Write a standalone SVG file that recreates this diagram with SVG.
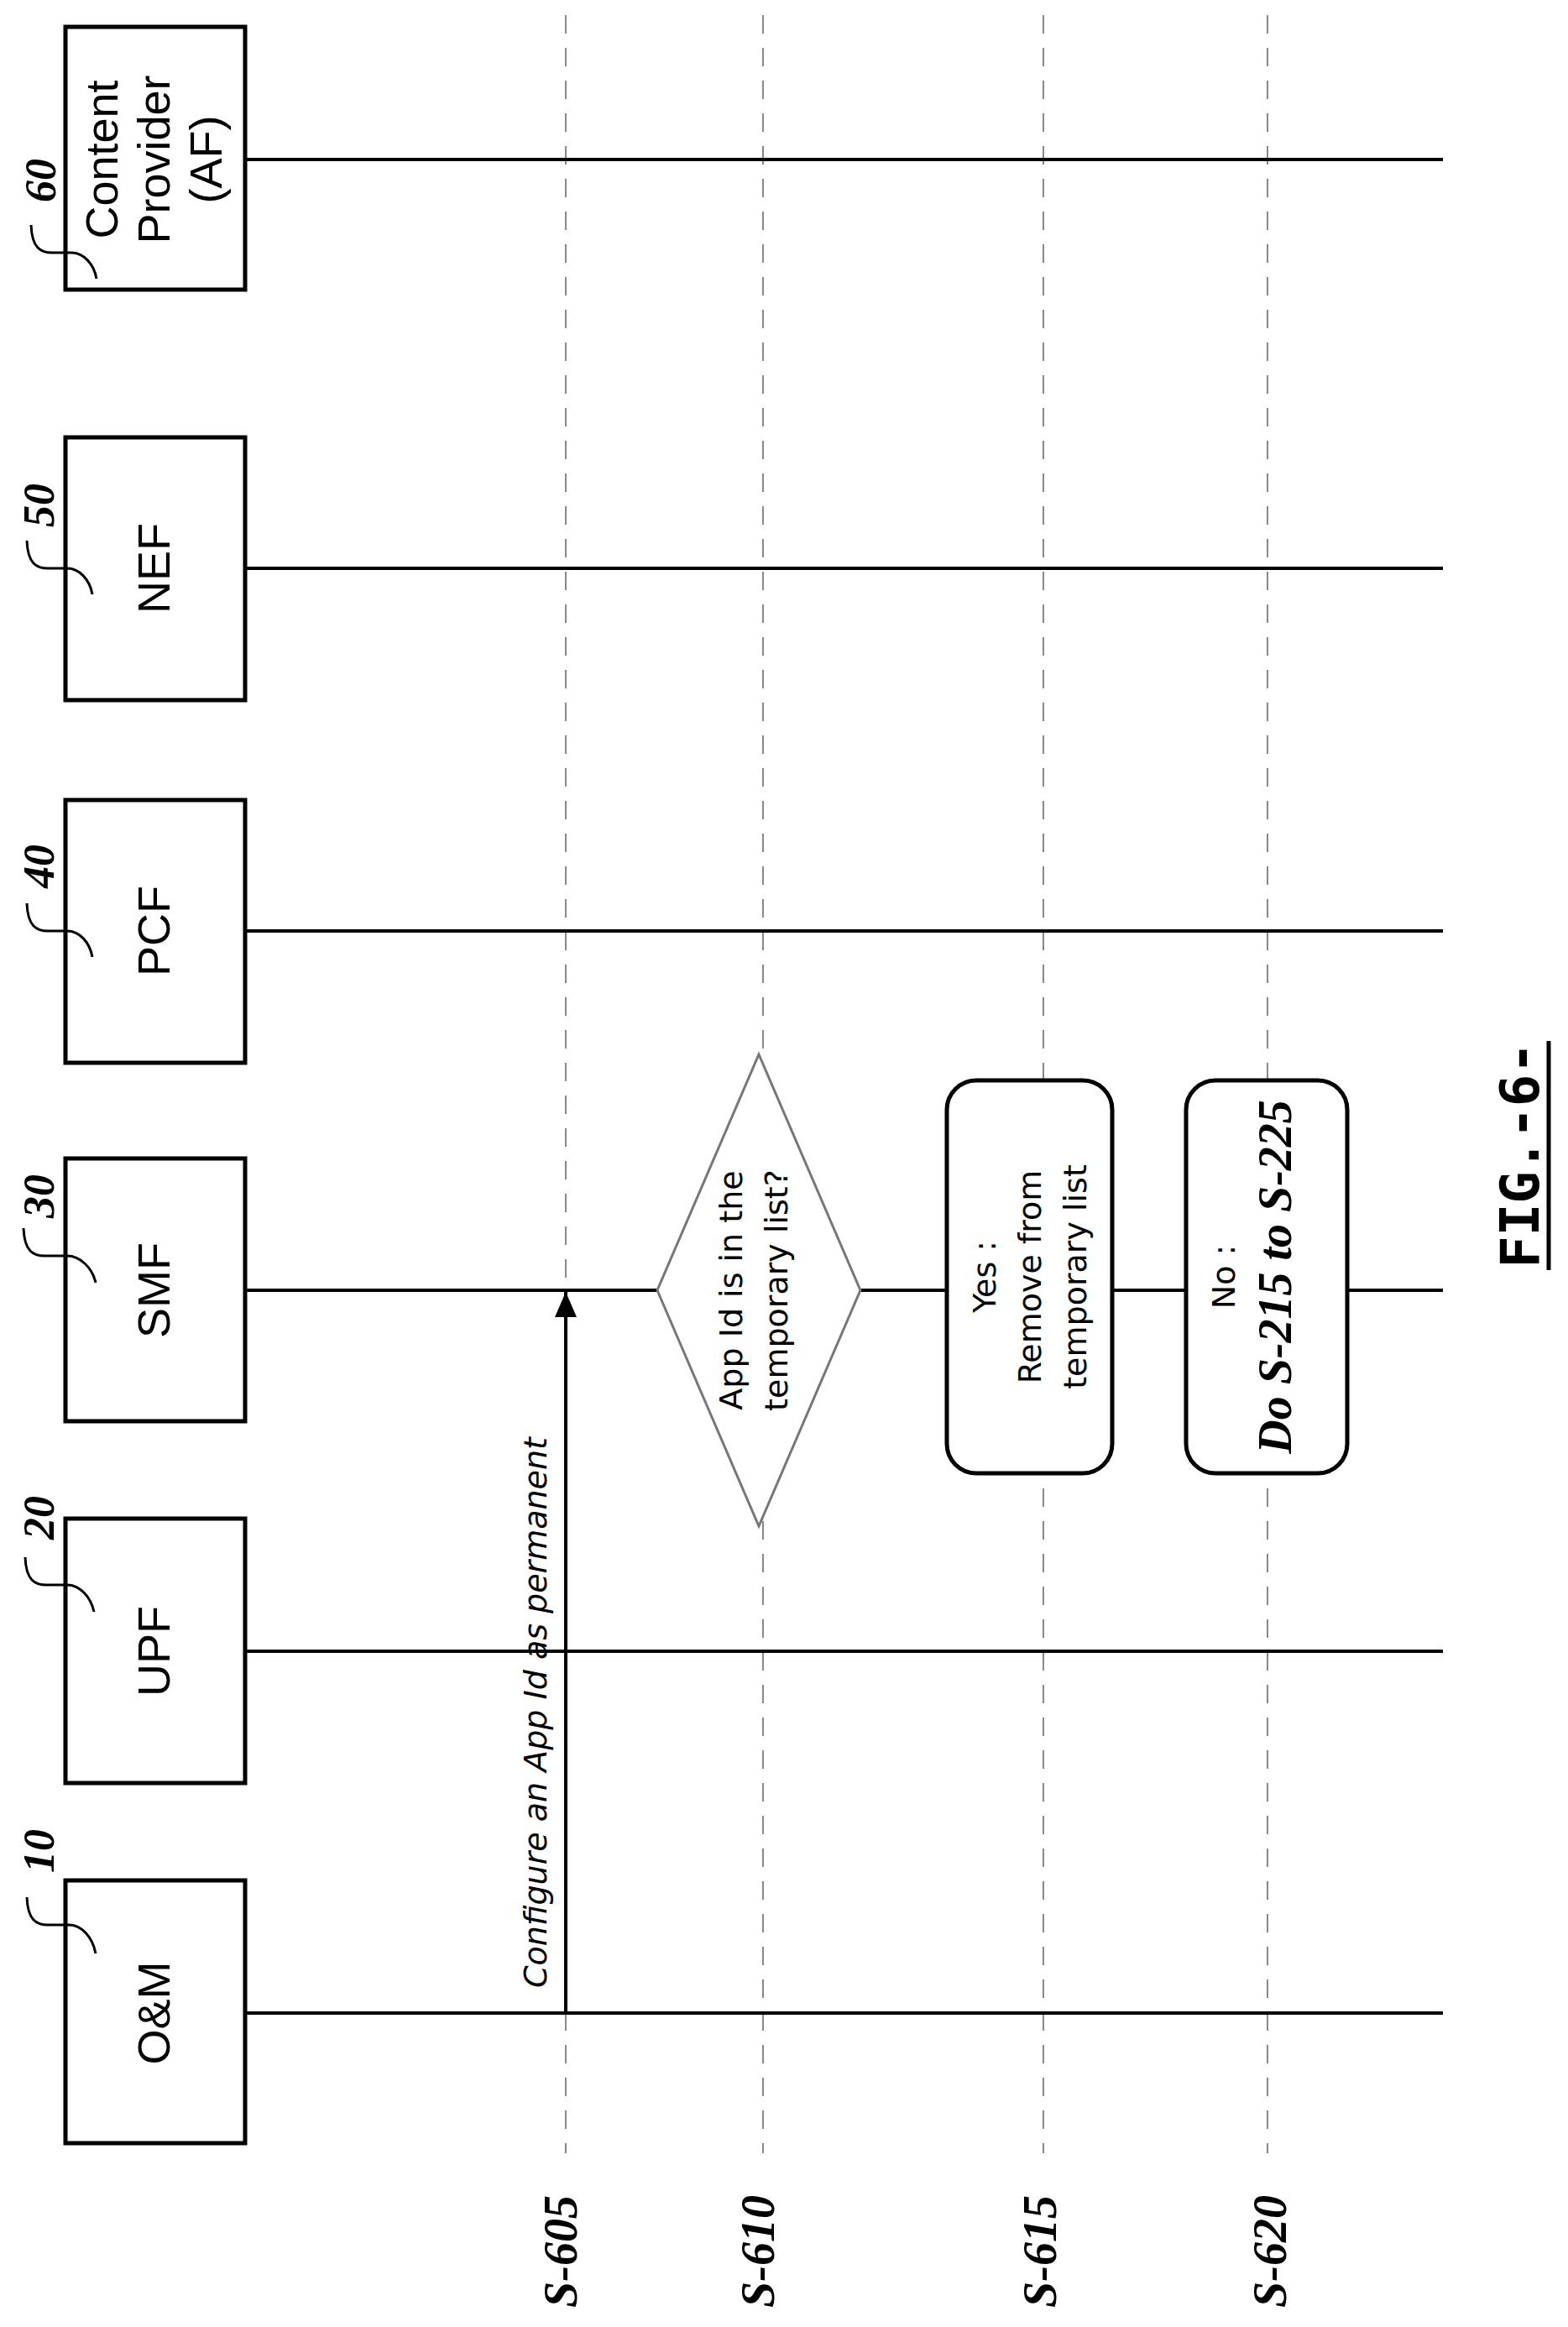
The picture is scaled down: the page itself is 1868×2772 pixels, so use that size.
<svg xmlns="http://www.w3.org/2000/svg" width="1868" height="2772" viewBox="0 0 1868 2772">
<style>
.box{fill:#fff;stroke:#000;stroke-width:5}
.life{stroke:#000;stroke-width:4;fill:none}
.dash{stroke:#888;stroke-width:2;stroke-dasharray:22 17;fill:none}
.sq{stroke:#000;stroke-width:3;fill:none}
.lbl{font-family:"Liberation Sans",Arial,sans-serif;font-size:54px;text-anchor:middle;dominant-baseline:central}
.ref{font-family:"Liberation Serif",serif;font-weight:bold;font-style:italic;font-size:52px;text-anchor:middle;dominant-baseline:central}
.step{font-family:"Liberation Serif",serif;font-weight:bold;font-style:italic;font-size:56px;text-anchor:middle;dominant-baseline:central}
.sm{font-family:"DejaVu Sans",sans-serif;font-size:38px;text-anchor:middle;dominant-baseline:central}
</style>
<defs>
<marker id="a2" viewBox="0 0 30 26" refX="30" refY="13" markerWidth="30" markerHeight="26" orient="auto" markerUnits="userSpaceOnUse"><path d="M0,0 L30,13 L0,26 z" fill="#000"/></marker></defs>

<g id="dashes">
<line class="dash" x1="674" y1="18" x2="674" y2="2565"/>
<line class="dash" x1="909" y1="18" x2="909" y2="2565"/>
<line class="dash" x1="1243" y1="18" x2="1243" y2="2565"/>
<line class="dash" x1="1510" y1="18" x2="1510" y2="2565"/>
</g>

<g id="connectors">
<line class="life" x1="292" y1="190" x2="1719" y2="190"/>
<line class="life" x1="292" y1="677" x2="1719" y2="677"/>
<line class="life" x1="292" y1="1109" x2="1719" y2="1109"/>
<line class="life" x1="292" y1="1537" x2="1719" y2="1537"/>
<line class="life" x1="292" y1="1967" x2="1719" y2="1967"/>
<line class="life" x1="292" y1="2398" x2="1719" y2="2398"/>
<line x1="674" y1="2398" x2="674" y2="1539" stroke="#000" stroke-width="4" marker-end="url(#a2)"/>
<text class="sm" font-size="39" font-style="italic" transform="translate(638,2040) rotate(-90)">Configure an App Id as permanent</text>
</g>

<g id="n60"><rect class="box" x="78" y="32" width="214" height="313"/>
<text class="lbl" transform="translate(183,190) rotate(-90)"><tspan x="0" dy="-62">Content</tspan><tspan x="0" dy="62">Provider</tspan><tspan x="0" dy="62">(AF)</tspan></text>
<path class="sq" d="M37,268 C38,295 48,302 65,301 L85,301 C100,301 112,315 115,332"/>
<text class="ref" transform="translate(48,215) rotate(-90)">60</text></g>

<g id="n50"><rect class="box" x="78" y="521" width="214" height="313"/>
<text class="lbl" transform="translate(183,677) rotate(-90)">NEF</text>
<path class="sq" d="M32,644 C33,671 43,678 60,677 L80,677 C95,677 107,691 110,708"/>
<text class="ref" transform="translate(46,602) rotate(-90)">50</text></g>

<g id="n40"><rect class="box" x="78" y="953" width="214" height="313"/>
<text class="lbl" transform="translate(183,1109) rotate(-90)">PCF</text>
<path class="sq" d="M32,1076 C33,1103 43,1110 60,1109 L80,1109 C95,1109 107,1123 110,1140"/>
<text class="ref" transform="translate(46,1032) rotate(-90)">40</text></g>

<g id="n30"><rect class="box" x="78" y="1380" width="214" height="313"/>
<text class="lbl" transform="translate(183,1537) rotate(-90)">SMF</text>
<path class="sq" d="M28,1463 C29,1490 39,1497 56,1496 L80,1496 C95,1496 110,1510 114,1528"/>
<text class="ref" transform="translate(46,1425) rotate(-90)">30</text></g>

<g id="n20"><rect class="box" x="78" y="1809" width="214" height="315"/>
<text class="lbl" transform="translate(183,1967) rotate(-90)">UPF</text>
<path class="sq" d="M30,1855 C31,1882 41,1889 58,1888 L80,1888 C95,1888 108,1902 112,1920"/>
<text class="ref" transform="translate(46,1808) rotate(-90)">20</text></g>

<g id="n10"><rect class="box" x="78" y="2240" width="214" height="313"/>
<text class="lbl" transform="translate(183,2398) rotate(-90)">O&amp;M</text>
<path class="sq" d="M32,2260 C33,2287 43,2294 60,2293 L82,2293 C97,2293 110,2307 114,2327"/>
<text class="ref" transform="translate(46,2205) rotate(-90)">10</text></g>

<g id="s610"><polygon points="904,1256 1025,1537 904,1818 783,1537" fill="#fff" stroke="#777" stroke-width="3"/>
<text class="sm" transform="translate(898,1537) rotate(-90)"><tspan x="0" dy="-27">App Id is in the</tspan><tspan x="0" dy="54">temporary list?</tspan></text></g>

<g id="s615"><rect class="box" x="1128" y="1287" width="197" height="468" rx="35"/>
<text class="sm" transform="translate(1227,1521) rotate(-90)"><tspan x="0" dy="-54">Yes :</tspan><tspan x="0" dy="54">Remove from</tspan><tspan x="0" dy="54">temporary list</tspan></text></g>

<g id="s620"><rect class="box" x="1413" y="1287" width="192" height="468" rx="35"/>
<text class="sm" transform="translate(1458,1521) rotate(-90)">No :</text>
<text class="step" font-size="50" transform="translate(1519,1521) rotate(-90)">Do S-215 to S-225</text></g>

<g id="steps">
<text class="step" transform="translate(668,2682) rotate(-90)">S-605</text>
<text class="step" transform="translate(903,2682) rotate(-90)">S-610</text>
<text class="step" transform="translate(1239,2682) rotate(-90)">S-615</text>
<text class="step" transform="translate(1513,2682) rotate(-90)">S-620</text>
</g>

<g id="fig"><text transform="translate(1811,1376) rotate(-90)" font-family="'DejaVu Sans Mono',monospace" font-weight="bold" font-size="64" text-anchor="middle" dominant-baseline="central">FIG.-6-</text>
<line x1="1845" y1="1240" x2="1845" y2="1513" stroke="#000" stroke-width="5"/></g>
</svg>
